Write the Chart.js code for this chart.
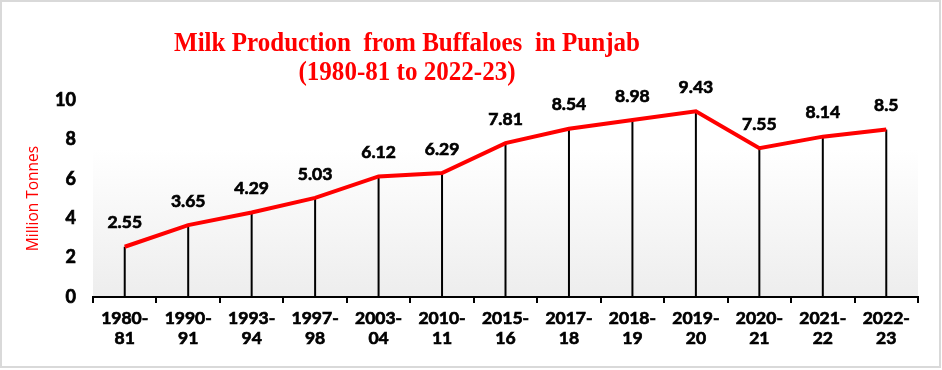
<!DOCTYPE html>
<html>
<head>
<meta charset="utf-8">
<script src="https://cdn.jsdelivr.net/npm/chart.js@4.4.1/dist/chart.umd.min.js"></script>
<style>
  html, body { margin: 0; padding: 0; background: #fff; }
  #wrap { position: relative; width: 942px; height: 370px; }
  #wrap::after {
    content: ''; position: absolute; left: 0; top: 0; width: 937px; height: 364px;
    border: 2px solid #d9d9d9; pointer-events: none;
  }
  canvas { display: block; }
</style>
</head>
<body>
<div id="wrap"><canvas id="milkChart" width="942" height="370"></canvas></div>
<script>
const years = [
  ['1980-', '81'], ['1990-', '91'], ['1993-', '94'], ['1997-', '98'], ['2003-', '04'],
  ['2010-', '11'], ['2015-', '16'], ['2017-', '18'], ['2018-', '19'], ['2019-', '20'],
  ['2020-', '21'], ['2021-', '22'], ['2022-', '23']
];
const production = [2.55, 3.65, 4.29, 5.03, 6.12, 6.29, 7.81, 8.54, 8.98, 9.43, 7.55, 8.14, 8.5];
const yTicks = [0, 2, 4, 6, 8, 10];

const titleLines = ['Milk Production  from Buffaloes  in Punjab', '(1980-81 to 2022-23)'];
const sansFamily = 'Lato, "Open Sans", sans-serif';
const labelFont = 'bold 17.5px ' + sansFamily;

// plot area gradient fill
const plotBackground = {
    id: 'plotBackground',
    beforeDraw(chart) {
        const { ctx, chartArea: a } = chart;
        const g = ctx.createLinearGradient(0, a.top, 0, a.bottom);
        g.addColorStop(0, '#ffffff');
        g.addColorStop(0.25, '#ffffff');
        g.addColorStop(1, '#ededed');
        ctx.save();
        ctx.fillStyle = g;
        ctx.fillRect(a.left, a.top, a.right - a.left, a.bottom - a.top);
        ctx.restore();
    }
};

// vertical drop lines from each point to the axis
const dropLines = {
    id: 'dropLines',
    beforeDatasetsDraw(chart) {
        const { ctx } = chart;
        const bottom = chart.scales.y.getPixelForValue(0);
        ctx.save();
        ctx.strokeStyle = '#000';
        ctx.lineWidth = 2;
        chart.getDatasetMeta(0).data.forEach(pt => {
            ctx.beginPath();
            ctx.moveTo(pt.x, pt.y);
            ctx.lineTo(pt.x, bottom);
            ctx.stroke();
        });
        ctx.restore();
    }
};

// value labels above points (thin stroke to get the heavy look)
const valueLabels = {
    id: 'valueLabels',
    afterDatasetsDraw(chart) {
        const { ctx } = chart;
        const ds = chart.data.datasets[0];
        ctx.save();
        ctx.font = labelFont;
        ctx.fillStyle = '#000';
        ctx.strokeStyle = '#000';
        ctx.lineWidth = 0.7;
        ctx.textAlign = 'center';
        ctx.textBaseline = 'middle';
        chart.getDatasetMeta(0).data.forEach((pt, i) => {
            const s = String(ds.data[i]);
            ctx.strokeText(s, pt.x, pt.y - 24);
            ctx.fillText(s, pt.x, pt.y - 24);
        });
        ctx.restore();
    }
};

// two-line red title, a bit condensed and left of centre like the original
const titleText = {
    id: 'titleText',
    afterDraw(chart) {
        const { ctx } = chart;
        ctx.save();
        ctx.font = 'bold 27px "Liberation Serif", "Times New Roman", serif';
        ctx.fillStyle = '#ff0000';
        ctx.textAlign = 'center';
        ctx.textBaseline = 'alphabetic';
        const w = ctx.measureText(titleLines[0]).width;
        const sx = 466 / w;
        ctx.translate(407, 0);
        ctx.scale(sx, 1);
        ctx.fillText(titleLines[0], 0, 51);
        ctx.fillText(titleLines[1], 0, 80);
        ctx.restore();
    }
};

new Chart(document.getElementById('milkChart'), {
    type: 'line',
    data: {
        labels: years,
        datasets: [{
            data: production,
            borderColor: '#ff0000',
            borderWidth: 4,
            pointRadius: 0,
            tension: 0,
            fill: false
        }]
    },
    options: {
        responsive: false,
        animation: false,
        layout: { padding: { left: 0, right: 24, top: 100, bottom: 0 } },
        plugins: {
            legend: { display: false },
            tooltip: { enabled: false }
        },
        scales: {
            x: {
                offset: true,
                grid: {
                    offset: true,
                    drawOnChartArea: false,
                    drawTicks: true,
                    tickLength: 6,
                    color: '#000',
                    lineWidth: 2
                },
                border: { color: '#000', width: 2 },
                ticks: {
                    color: '#000',
                    font: { family: sansFamily, size: 17.5, weight: 'bold', lineHeight: 1.1 },
                    textStrokeColor: '#000',
                    textStrokeWidth: 0.7,
                    padding: 6,
                    maxRotation: 0,
                    autoSkip: false
                },
                afterFit(scale) { scale.height = 73; }
            },
            y: {
                min: 0,
                max: 10,
                afterBuildTicks(scale) { scale.ticks = yTicks.map(v => ({ value: v })); },
                grid: { display: false, drawTicks: false },
                border: { display: false },
                ticks: {
                    color: '#000',
                    font: { family: sansFamily, size: 18, weight: 'bold' },
                    textStrokeColor: '#000',
                    textStrokeWidth: 0.7,
                    padding: 17
                },
                title: {
                    display: true,
                    text: 'Million Tonnes',
                    color: '#ff0000',
                    font: { family: '"Open Sans", Lato, sans-serif', size: 15.5 },
                    padding: { top: 24, bottom: 0 }
                },
                afterFit(scale) { scale.width = 93; }
            }
        }
    },
    plugins: [plotBackground, dropLines, valueLabels, titleText]
});
</script>
</body>
</html>
